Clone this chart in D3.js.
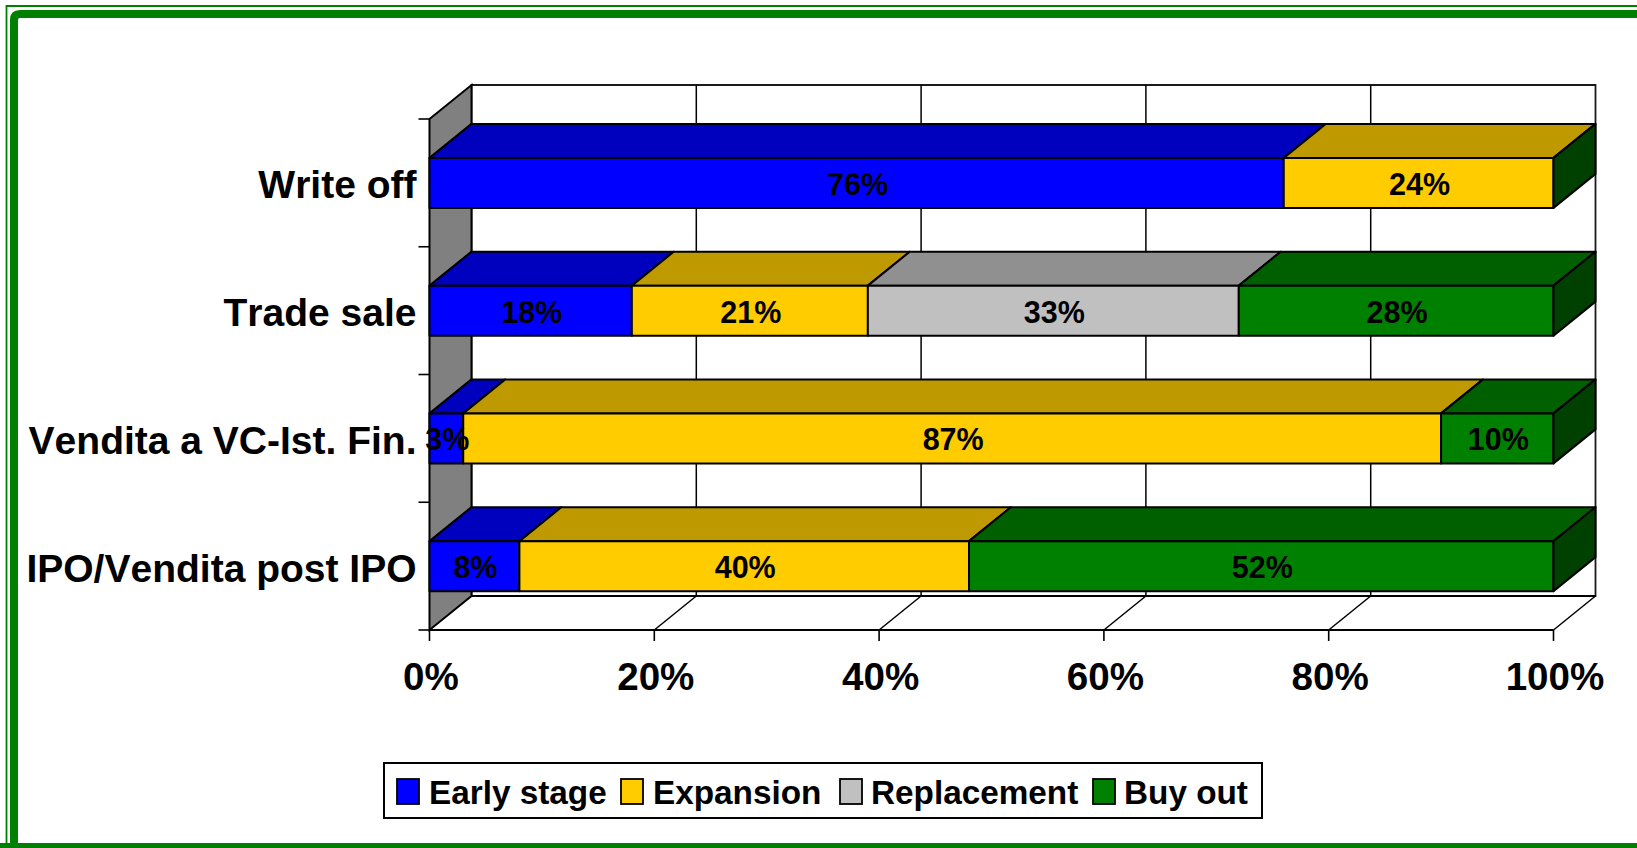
<!DOCTYPE html>
<html>
<head>
<meta charset="utf-8">
<script src="https://cdn.jsdelivr.net/npm/d3@7"></script>
<style>
  html, body { margin: 0; padding: 0; background: #fff; overflow: hidden; }
  svg { display: block; font-family: "Liberation Sans", Arial, sans-serif; font-weight: bold; font-kerning: none; }
</style>
</head>
<body>
<svg id="chart" width="1637" height="848"></svg>
<script>
const categories = ["Write off", "Trade sale", "Vendita a VC-Ist. Fin.", "IPO/Vendita post IPO"];
const seriesNames = ["Early stage", "Expansion", "Replacement", "Buy out"];
const earlyStage = [76, 18, 3, 8];
const expansion = [24, 21, 87, 40];
const replacement = [0, 33, 0, 0];
const buyOut = [0, 28, 10, 52];
const xTicks = [0, 20, 40, 60, 80, 100];

const frontColors = ["#0000ff", "#ffcc00", "#c0c0c0", "#008000"];
const topColors = ["#0000bf", "#bf9900", "#909090", "#006000"];
const sideColor = "#004000";

const seriesValues = [earlyStage, expansion, replacement, buyOut];
const rows = categories.map((name, i) => ({ name, values: seriesValues.map((s) => s[i]) }));

const svg = d3.select("#chart");

// profondità della "scatola" 3D
const depthX = 42;
const depthY = 34;
const floorY = 630;
const frontTop = 119;

const x = d3.scaleLinear().domain([0, 100]).range([429.5, 1553.5]);
const pad = 1 - 50 / ((floorY - frontTop) / categories.length);
const y = d3.scaleBand().domain(categories).range([frontTop, floorY])
  .paddingInner(pad).paddingOuter(pad / 2);

const poly = (pts) => pts.map((p) => p.join(",")).join(" ");

// cornice verde
svg.append("path").attr("d", "M6.5,848V6H1637").attr("fill", "none").attr("stroke", "#008000").attr("stroke-width", 1.8);
svg.append("path").attr("d", "M14,848V20Q14,14 20,14H1637").attr("fill", "none").attr("stroke", "#008000").attr("stroke-width", 8);
svg.append("rect").attr("x", 0).attr("y", 843).attr("width", 1637).attr("height", 5).attr("fill", "#008000");

// pareti: sfondo bianco, parete sinistra grigia, griglia sul fondo, pavimento
const x0 = x(0), x1 = x(100);
svg.append("polygon")
  .attr("points", poly([[x0 + depthX, frontTop - depthY], [x1 + depthX, frontTop - depthY], [x1 + depthX, floorY - depthY], [x0 + depthX, floorY - depthY]]))
  .attr("fill", "#fff").attr("stroke", "#1a1a1a").attr("stroke-width", 1.8);
svg.append("polygon")
  .attr("points", poly([[x0, frontTop], [x0 + depthX, frontTop - depthY], [x0 + depthX, floorY - depthY], [x0, floorY]]))
  .attr("fill", "#808080").attr("stroke", "#000").attr("stroke-width", 2);

const grid = svg.append("g").attr("stroke", "#000").attr("stroke-width", 1.5);
xTicks.slice(1, -1).forEach((t) => {
  grid.append("line").attr("x1", x(t) + depthX).attr("x2", x(t) + depthX)
    .attr("y1", frontTop - depthY).attr("y2", floorY - depthY);
});
xTicks.slice(1).forEach((t) => {
  grid.append("line").attr("x1", x(t)).attr("x2", x(t) + depthX)
    .attr("y1", floorY).attr("y2", floorY - depthY);
});
svg.append("line").attr("x1", x0 + depthX).attr("x2", x1 + depthX)
  .attr("y1", floorY - depthY).attr("y2", floorY - depthY)
  .attr("stroke", "#000").attr("stroke-width", 2.2);

// barre impilate, dal fondo verso il primo piano
const bars = svg.append("g").attr("stroke", "#000").attr("stroke-width", 2).attr("stroke-linejoin", "round");
rows.forEach((row) => {
  const top = y(row.name);
  const bottom = top + y.bandwidth();
  let acc = 0;
  const segs = [];
  row.values.forEach((v, i) => {
    if (v > 0) segs.push({ i, a: acc, b: acc + v });
    acc += v;
  });
  segs.forEach((s) => {
    const a = x(s.a), b = x(s.b);
    bars.append("polygon")
      .attr("points", poly([[a, top], [a + depthX, top - depthY], [b + depthX, top - depthY], [b, top]]))
      .attr("fill", topColors[s.i]);
    bars.append("rect").attr("x", a).attr("y", top).attr("width", b - a).attr("height", bottom - top)
      .attr("fill", frontColors[s.i]);
  });
  const end = x(acc);
  bars.append("polygon")
    .attr("points", poly([[end, top], [end + depthX, top - depthY], [end + depthX, bottom - depthY], [end, bottom]]))
    .attr("fill", sideColor);
});

// asse x e tacche
const axisG = svg.append("g").attr("stroke", "#000");
axisG.append("line").attr("x1", x0).attr("x2", x1).attr("y1", floorY).attr("y2", floorY).attr("stroke-width", 2.2);
xTicks.forEach((t) => {
  axisG.append("line").attr("x1", x(t)).attr("x2", x(t)).attr("y1", floorY).attr("y2", floorY + 11).attr("stroke-width", 1.6);
});
// tacche asse categorie (ai bordi delle bande)
const bandEdges = categories.map((c) => y(c) - y.step() * pad / 2).concat(floorY);
bandEdges.forEach((e) => {
  axisG.append("line").attr("x1", x0 - 11).attr("x2", x0).attr("y1", e).attr("y2", e).attr("stroke-width", 1.6);
});

svg.append("g").selectAll("text").data(xTicks).join("text")
  .attr("x", (d) => x(d) + 1.5).attr("y", 689.5)
  .attr("text-anchor", "middle").style("font-size", "38.6px").attr("fill", "#000")
  .text((d) => `${d}%`);

svg.append("g").selectAll("text").data(categories).join("text")
  .attr("x", 416.5).attr("y", (d) => y(d) + y.bandwidth() / 2 + 15.5)
  .attr("text-anchor", "end").style("font-size", "39px").attr("fill", "#000")
  .text((d) => d);

// etichette percentuali
const labels = svg.append("g").attr("text-anchor", "middle").style("font-size", "30.5px").attr("fill", "#000");
rows.forEach((row) => {
  let acc = 0;
  row.values.forEach((v) => {
    if (v > 0) {
      labels.append("text").attr("x", x(acc + v / 2) + 1)
        .attr("y", y(row.name) + y.bandwidth() / 2 + 12).text(`${v}%`);
    }
    acc += v;
  });
});

// legenda
const legendG = svg.append("g");
legendG.append("rect").attr("x", 384).attr("y", 763).attr("width", 878).attr("height", 55)
  .attr("fill", "#fff").attr("stroke", "#000").attr("stroke-width", 2);
const legendSwatchX = [397, 621, 840, 1093];
const legendTextX = [429, 653, 871, 1124];
seriesNames.forEach((name, i) => {
  legendG.append("rect").attr("x", legendSwatchX[i]).attr("y", 779).attr("width", 22).attr("height", 25)
    .attr("fill", frontColors[i]).attr("stroke", "#000").attr("stroke-width", 1.8);
  legendG.append("text").attr("x", legendTextX[i]).attr("y", 803.5)
    .style("font-size", "33.3px").attr("fill", "#000").text(name);
});
</script>
</body>
</html>
